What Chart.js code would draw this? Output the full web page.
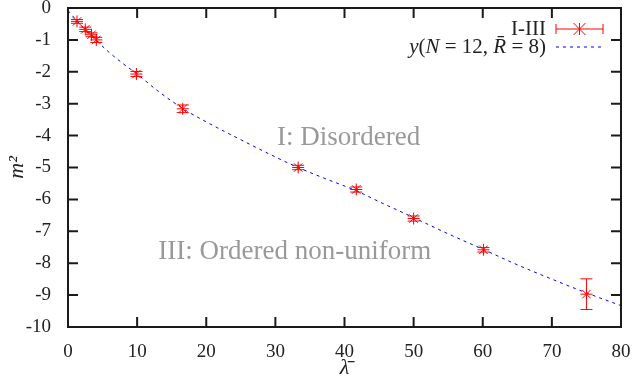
<!DOCTYPE html>
<html>
<head>
<meta charset="utf-8">
<script src="https://cdn.jsdelivr.net/npm/chart.js@4/dist/chart.umd.min.js"></script>
<style>
  html, body { margin: 0; padding: 0; background: #fff; }
  #wrap { width: 637px; height: 383px; position: relative; }
</style>
</head>
<body>
<div id="wrap"><canvas id="chart"></canvas></div>
<script>
/* ─── Datos ─── */
const lambdaVals = [1.3, 2.5, 3.4, 4.1, 9.9, 16.6, 33.3, 41.7, 50.0, 60.1, 75.0];
const m2Vals     = [-0.42, -0.67, -0.84, -1.0, -2.07, -3.16, -5.0, -5.69, -6.6, -7.58, -8.97];
const m2Err      = [0.06, 0.07, 0.06, 0.08, 0.08, 0.12, 0.07, 0.08, 0.08, 0.07, 0.48];

const curveX = [0, 1, 2, 3, 4, 6, 8, 10, 13, 16.6, 20, 25, 30, 33.3, 37, 41.7, 45, 50, 55, 60, 65, 70, 75, 80];
const curveY = [-0.08, -0.33, -0.57, -0.8, -1.0, -1.4, -1.75, -2.07, -2.6, -3.15, -3.57, -4.13, -4.67, -5.0, -5.33, -5.73, -6.07, -6.57, -7.08, -7.56, -8.05, -8.5, -8.93, -9.33];

const xTicks = [0, 10, 20, 30, 40, 50, 60, 70, 80];
const yTicks = [0, -1, -2, -3, -4, -5, -6, -7, -8, -9, -10];

const SERIF = '"Liberation Serif", "DejaVu Serif", serif';
const RED   = '#ff0000';
const BLUE  = '#0000ff';
const AXIS  = '#1a1a1a';

/* ─── Marco con ticks hacia adentro (se dibuja antes de los datos) ─── */
const framePlugin = {
  id: 'frame',
  beforeDatasetsDraw(chart) {
    const ctx = chart.ctx;
    const x = chart.scales.x, y = chart.scales.y;
    const TL = 10;
    const L = x.getPixelForValue(xTicks[0]);
    const R = x.getPixelForValue(xTicks[xTicks.length - 1]);
    const T = y.getPixelForValue(yTicks[0]);
    const B = y.getPixelForValue(yTicks[yTicks.length - 1]);
    ctx.save();
    ctx.setLineDash([]);
    ctx.strokeStyle = AXIS;
    ctx.lineWidth = 2;
    ctx.strokeRect(L, T, R - L, B - T);
    ctx.beginPath();
    xTicks.forEach(v => {
      const p = x.getPixelForValue(v);
      ctx.moveTo(p, B); ctx.lineTo(p, B - TL);
      ctx.moveTo(p, T); ctx.lineTo(p, T + TL);
    });
    yTicks.forEach(v => {
      const p = y.getPixelForValue(v);
      ctx.moveTo(L, p); ctx.lineTo(L + TL, p);
      ctx.moveTo(R, p); ctx.lineTo(R - TL, p);
    });
    ctx.stroke();
    ctx.restore();
  },
};

/* ─── Barras de error, regiones y leyenda ─── */
const overlayPlugin = {
  id: 'overlay',
  afterDatasetsDraw(chart) {
    const ctx = chart.ctx;
    const x = chart.scales.x, y = chart.scales.y;
    ctx.save();
    ctx.setLineDash([]);

    // barras de error
    ctx.strokeStyle = RED;
    ctx.lineWidth = 1;
    lambdaVals.forEach((lv, i) => {
      const px = x.getPixelForValue(lv);
      const top = y.getPixelForValue(m2Vals[i] + m2Err[i]);
      const bot = y.getPixelForValue(m2Vals[i] - m2Err[i]);
      ctx.beginPath();
      ctx.moveTo(px, top); ctx.lineTo(px, bot);
      ctx.moveTo(px - 6, top); ctx.lineTo(px + 6, top);
      ctx.moveTo(px - 6, bot); ctx.lineTo(px + 6, bot);
      ctx.stroke();
    });

    // etiquetas de regiones
    ctx.fillStyle = '#999999';
    ctx.font = `27px ${SERIF}`;
    ctx.textAlign = 'center';
    ctx.textBaseline = 'middle';
    ctx.fillText('I: Disordered', x.getPixelForValue(40.6), y.getPixelForValue(-4.07));
    ctx.fillText('III: Ordered non-uniform', x.getPixelForValue(32.8), y.getPixelForValue(-7.64));

    // leyenda
    const lx0 = 556, lx1 = 603, r1 = 29, r2 = 47;
    ctx.fillStyle = '#222';
    ctx.font = `21px ${SERIF}`;
    ctx.textAlign = 'right';
    ctx.fillText('I-III', 546, r1);
    ctx.strokeStyle = RED;
    ctx.beginPath();
    ctx.moveTo(lx0, r1); ctx.lineTo(lx1, r1);
    ctx.moveTo(lx0, r1 - 5); ctx.lineTo(lx0, r1 + 5);
    ctx.moveTo(lx1, r1 - 5); ctx.lineTo(lx1, r1 + 5);
    const cx = (lx0 + lx1) / 2, s = 6;
    ctx.moveTo(cx - s, r1 - s); ctx.lineTo(cx + s, r1 + s);
    ctx.moveTo(cx - s, r1 + s); ctx.lineTo(cx + s, r1 - s);
    ctx.moveTo(cx, r1 - s); ctx.lineTo(cx, r1 + s);
    ctx.stroke();
    ctx.strokeStyle = BLUE;
    ctx.setLineDash([3, 4]);
    ctx.beginPath();
    ctx.moveTo(lx0, r2); ctx.lineTo(lx1, r2);
    ctx.stroke();
    ctx.setLineDash([]);

    // y(N = 12, R̄ = 8) por partes
    const parts = [
      ['y', true], ['(', false], ['N', true], [' = 12, ', false],
      ['R\u0304', true], [' = 8)', false],
    ];
    ctx.textAlign = 'left';
    const fontOf = it => `${it ? 'italic ' : ''}21px ${SERIF}`;
    let w = 0;
    parts.forEach(([t, it]) => { ctx.font = fontOf(it); w += ctx.measureText(t).width; });
    let tx = 546 - w;
    parts.forEach(([t, it]) => {
      ctx.font = fontOf(it);
      ctx.fillText(t, tx, r2);
      tx += ctx.measureText(t).width;
    });
    ctx.restore();
  },
};

new Chart(document.getElementById('chart'), {
  type: 'scatter',
  data: {
    datasets: [
      {
        label: 'y(N = 12, R = 8)',
        data: curveX.map((v, i) => ({ x: v, y: curveY[i] })),
        showLine: true,
        borderColor: BLUE,
        borderWidth: 1,
        borderDash: [3, 4],
        pointRadius: 0,
        cubicInterpolationMode: 'monotone',
        order: 2,
      },
      {
        label: 'I-III',
        data: lambdaVals.map((v, i) => ({ x: v, y: m2Vals[i] })),
        pointStyle: 'star',
        pointRadius: 6,
        borderColor: RED,
        backgroundColor: RED,
        borderWidth: 1,
        order: 1,
      },
    ],
  },
  options: {
    responsive: true,
    maintainAspectRatio: false,
    animation: false,
    layout: { padding: { top: 8, right: 16, left: 0, bottom: 0 } },
    plugins: { legend: { display: false }, tooltip: { enabled: false } },
    scales: {
      x: {
        type: 'linear',
        min: 0, max: 80,
        afterFit: s => { s.height = 56; s.paddingLeft = 0; s.paddingRight = 0; },
        afterBuildTicks: s => { s.ticks = xTicks.map(v => ({ value: v })); },
        grid: { display: false },
        border: { display: false },
        ticks: { color: '#222', padding: 6, maxRotation: 0, font: { family: SERIF, size: 19 } },
        title: { display: true, text: 'λ\u0304', color: '#222', padding: { top: 0, bottom: 2 }, font: { family: SERIF, size: 22, style: 'italic' } },
      },
      y: {
        type: 'linear',
        min: -10, max: 0,
        afterFit: s => { s.width = 68; s.paddingTop = 0; s.paddingBottom = 0; },
        afterBuildTicks: s => { s.ticks = yTicks.map(v => ({ value: v })); },
        grid: { display: false },
        border: { display: false },
        ticks: { color: '#222', padding: 9, font: { family: SERIF, size: 19 } },
        title: { display: true, text: 'm²', color: '#222', padding: { top: 4, bottom: 0 }, font: { family: SERIF, size: 22, style: 'italic' } },
      },
    },
  },
  plugins: [framePlugin, overlayPlugin],
});
</script>
</body>
</html>
